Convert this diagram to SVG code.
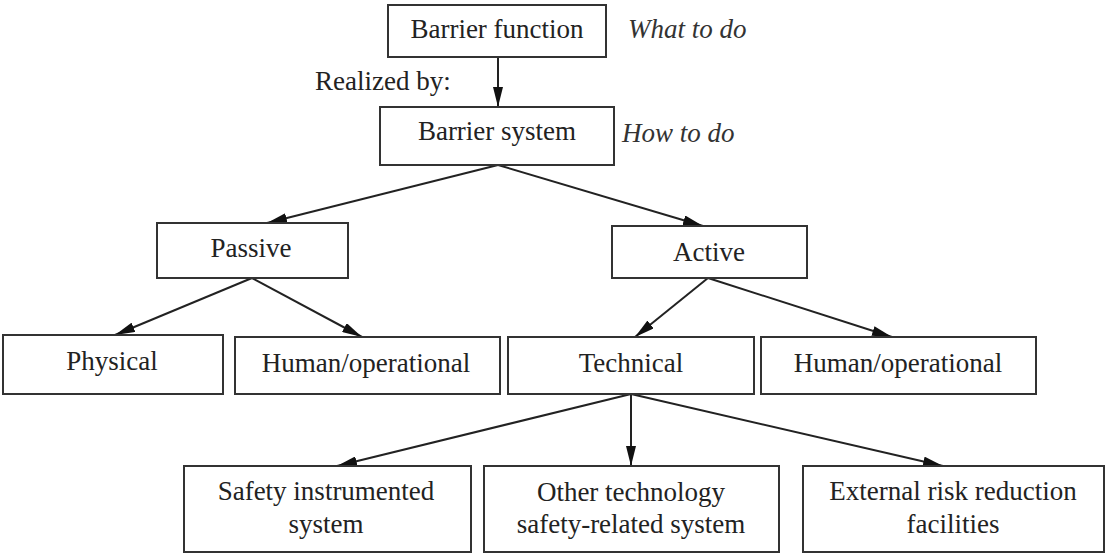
<svg xmlns="http://www.w3.org/2000/svg" width="1106" height="555" viewBox="0 0 1106 555">
  <defs>
    <marker id="head" markerUnits="userSpaceOnUse" markerWidth="20" markerHeight="10" refX="20" refY="5" orient="auto">
      <path d="M0,0 L20,5 L0,10 Z" fill="#111"/>
    </marker>
    <style>
      .box { fill: #fff; stroke: #333; stroke-width: 2; }
      .lbl { font-family: "Liberation Serif", "Times New Roman", serif; font-size: 27px; fill: #222; text-anchor: middle; }
      .note { font-family: "Liberation Serif", "Times New Roman", serif; font-size: 27px; font-style: italic; fill: #333; }
      .plain { font-family: "Liberation Serif", "Times New Roman", serif; font-size: 27px; fill: #222; }
      .edge { stroke: #222; stroke-width: 2; fill: none; marker-end: url(#head); }
    </style>
  </defs>
  <rect width="1106" height="555" fill="#fff"/>

  <!-- connectors -->
  <g id="connectors">
    <line class="edge" x1="498" y1="57" x2="498" y2="107"/>
    <line class="edge" x1="498" y1="165" x2="267" y2="223"/>
    <line class="edge" x1="498" y1="165" x2="703" y2="226"/>
    <line class="edge" x1="252" y1="278" x2="115" y2="335"/>
    <line class="edge" x1="252" y1="278" x2="362" y2="337"/>
    <line class="edge" x1="708" y1="278" x2="635" y2="337"/>
    <line class="edge" x1="708" y1="278" x2="892" y2="337"/>
    <line class="edge" x1="631" y1="394" x2="337" y2="466"/>
    <line class="edge" x1="631" y1="394" x2="631" y2="466"/>
    <line class="edge" x1="631" y1="394" x2="943" y2="466"/>
  </g>

  <!-- free annotations -->
  <g id="annotations">
    <text class="note" x="628" y="38">What to do</text>
    <text class="note" x="622" y="142">How to do</text>
    <text class="plain" x="315" y="90">Realized by:</text>
  </g>

  <g id="barrier-function">
    <rect class="box" x="388" y="5" width="218" height="52"/>
    <text class="lbl" x="497" y="38">Barrier function</text>
  </g>
  <g id="barrier-system">
    <rect class="box" x="380" y="107" width="234" height="58"/>
    <text class="lbl" x="497" y="140">Barrier system</text>
  </g>
  <g id="passive">
    <rect class="box" x="157" y="223" width="191" height="55"/>
    <text class="lbl" x="251" y="257">Passive</text>
  </g>
  <g id="active">
    <rect class="box" x="612" y="226" width="195" height="52"/>
    <text class="lbl" x="709" y="261">Active</text>
  </g>
  <g id="physical">
    <rect class="box" x="3" y="335" width="220" height="59"/>
    <text class="lbl" x="112" y="370">Physical</text>
  </g>
  <g id="passive-human">
    <rect class="box" x="235" y="337" width="265" height="57"/>
    <text class="lbl" x="366" y="372">Human/operational</text>
  </g>
  <g id="technical">
    <rect class="box" x="508" y="337" width="246" height="57"/>
    <text class="lbl" x="631" y="372">Technical</text>
  </g>
  <g id="active-human">
    <rect class="box" x="761" y="337" width="275" height="57"/>
    <text class="lbl" x="898" y="372">Human/operational</text>
  </g>
  <g id="sis">
    <rect class="box" x="184" y="466" width="287" height="86"/>
    <text class="lbl" x="326" y="500">Safety instrumented</text>
    <text class="lbl" x="326" y="533">system</text>
  </g>
  <g id="other-technology">
    <rect class="box" x="484" y="466" width="295" height="86"/>
    <text class="lbl" x="631" y="501">Other technology</text>
    <text class="lbl" x="631" y="533">safety-related system</text>
  </g>
  <g id="external-risk">
    <rect class="box" x="803" y="466" width="301" height="86"/>
    <text class="lbl" x="953" y="500">External risk reduction</text>
    <text class="lbl" x="953" y="533">facilities</text>
  </g>
</svg>
